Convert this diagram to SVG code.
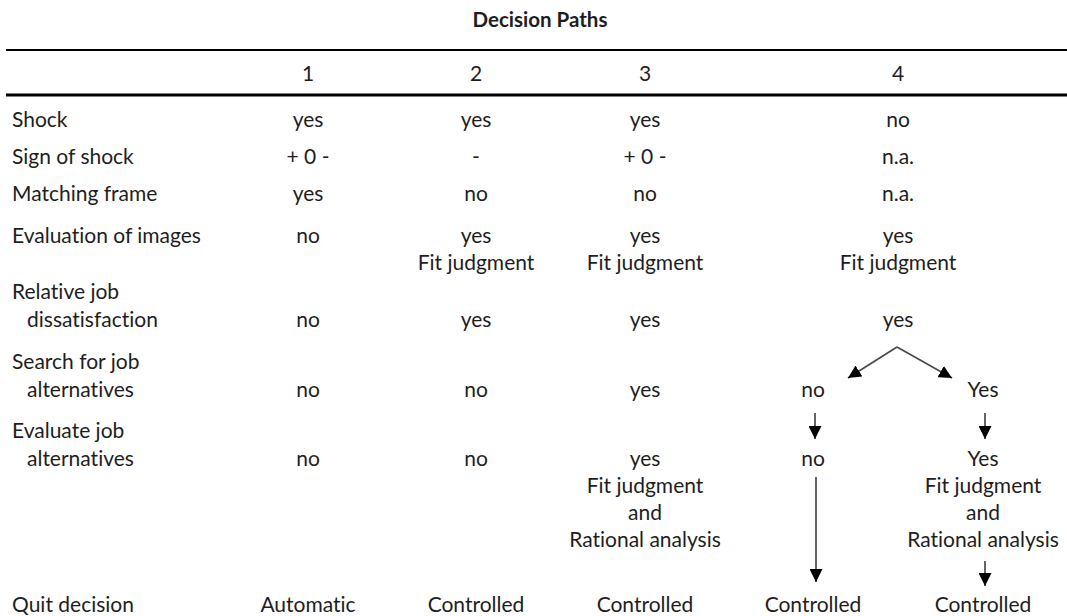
<svg xmlns="http://www.w3.org/2000/svg" width="1067" height="616" viewBox="0 0 1067 616">
  <defs>
    <style>
      text { font-family: Lato, "Open Sans", "Liberation Sans", sans-serif; font-size: 21px; fill: #1e1e1e; font-variant-ligatures: none; }
      .title { font-weight: bold; font-size: 20.5px; text-anchor: middle; }
      .c { text-anchor: middle; }
      .rule { stroke: #000; }
      .conn { stroke: #4a4a4a; stroke-width: 1.7; fill: none; marker-end: url(#arrow); }
    </style>
    <marker id="arrow" viewBox="0 0 14 13" refX="13" refY="6.5" markerWidth="14" markerHeight="13" markerUnits="userSpaceOnUse" orient="auto">
      <path d="M0,0 L13,6.5 L0,13 Z" fill="#000"/>
    </marker>
  </defs>
  <rect width="1067" height="616" fill="#fff"/>

  <text class="title" x="540" y="27">Decision Paths</text>
  <line class="rule" x1="6" y1="50" x2="1067" y2="50" stroke-width="2"/>
  <line class="rule" x1="6" y1="95" x2="1067" y2="95" stroke-width="3"/>

  <!-- column headings -->
  <g id="header">
    <text class="c" x="308" y="81">1</text>
    <text class="c" x="476" y="81">2</text>
    <text class="c" x="645" y="81">3</text>
    <text class="c" x="898" y="81">4</text>
  </g>

  <!-- row labels -->
  <g id="labels">
    <text x="12" y="127">Shock</text>
    <text x="12" y="164">Sign of shock</text>
    <text x="12" y="201">Matching frame</text>
    <text x="12" y="243">Evaluation of images</text>
    <text x="12" y="299">Relative job</text>
    <text x="27" y="327">dissatisfaction</text>
    <text x="12" y="369">Search for job</text>
    <text x="27" y="397">alternatives</text>
    <text x="12" y="438">Evaluate job</text>
    <text x="27" y="466">alternatives</text>
    <text x="12" y="612">Quit decision</text>
  </g>

  <!-- path 1 -->
  <g id="path1">
    <text class="c" x="308" y="127">yes</text>
    <text class="c" x="308" y="164">+ 0 -</text>
    <text class="c" x="308" y="201">yes</text>
    <text class="c" x="308" y="243">no</text>
    <text class="c" x="308" y="327">no</text>
    <text class="c" x="308" y="397">no</text>
    <text class="c" x="308" y="466">no</text>
    <text class="c" x="308" y="612">Automatic</text>
  </g>

  <!-- path 2 -->
  <g id="path2">
    <text class="c" x="476" y="127">yes</text>
    <text class="c" x="476" y="164">-</text>
    <text class="c" x="476" y="201">no</text>
    <text class="c" x="476" y="243">yes</text>
    <text class="c" x="476" y="270">Fit judgment</text>
    <text class="c" x="476" y="327">yes</text>
    <text class="c" x="476" y="397">no</text>
    <text class="c" x="476" y="466">no</text>
    <text class="c" x="476" y="612">Controlled</text>
  </g>

  <!-- path 3 -->
  <g id="path3">
    <text class="c" x="645" y="127">yes</text>
    <text class="c" x="645" y="164">+ 0 -</text>
    <text class="c" x="645" y="201">no</text>
    <text class="c" x="645" y="243">yes</text>
    <text class="c" x="645" y="270">Fit judgment</text>
    <text class="c" x="645" y="327">yes</text>
    <text class="c" x="645" y="397">yes</text>
    <text class="c" x="645" y="466">yes</text>
    <text class="c" x="645" y="493">Fit judgment</text>
    <text class="c" x="645" y="520">and</text>
    <text class="c" x="645" y="547">Rational analysis</text>
    <text class="c" x="645" y="612">Controlled</text>
  </g>

  <!-- path 4 -->
  <g id="path4">
    <text class="c" x="898" y="127">no</text>
    <text class="c" x="898" y="164">n.a.</text>
    <text class="c" x="898" y="201">n.a.</text>
    <text class="c" x="898" y="243">yes</text>
    <text class="c" x="898" y="270">Fit judgment</text>
    <text class="c" x="898" y="327">yes</text>
  </g>
  <g id="path4-no">
    <text class="c" x="813" y="397">no</text>
    <text class="c" x="813" y="466">no</text>
    <text class="c" x="813" y="612">Controlled</text>
  </g>
  <g id="path4-yes">
    <text class="c" x="983" y="397">Yes</text>
    <text class="c" x="983" y="466">Yes</text>
    <text class="c" x="983" y="493">Fit judgment</text>
    <text class="c" x="983" y="520">and</text>
    <text class="c" x="983" y="547">Rational analysis</text>
    <text class="c" x="983" y="612">Controlled</text>
  </g>

  <!-- connectors -->
  <g id="connectors">
    <path class="conn" d="M897,347 L848,378"/>
    <path class="conn" d="M897,347 L952,378"/>
    <path class="conn" d="M815,413 L815,439"/>
    <path class="conn" d="M985,413 L985,439"/>
    <path class="conn" d="M816,477 L816,582"/>
    <path class="conn" d="M985,561 L985,586"/>
  </g>
</svg>
